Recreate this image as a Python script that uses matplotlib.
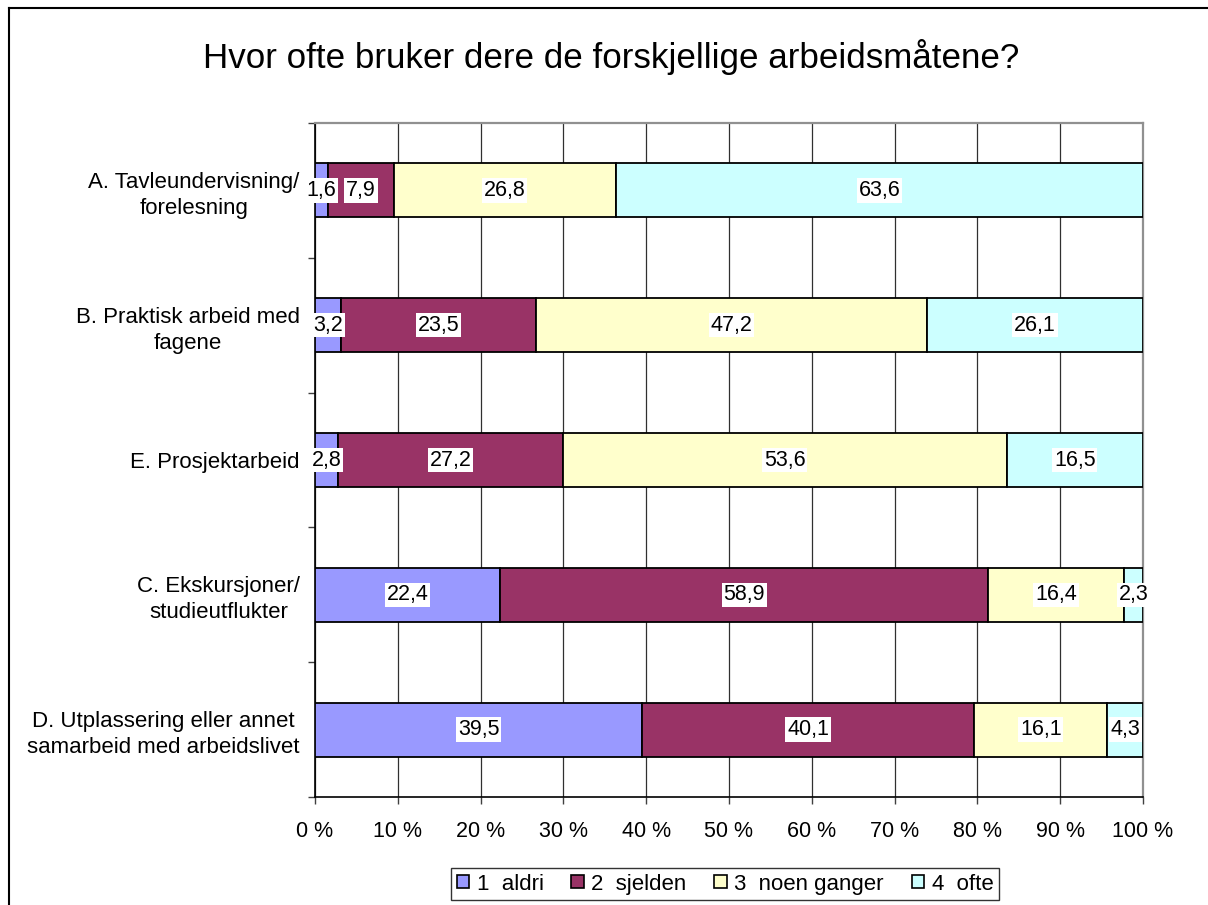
import matplotlib
matplotlib.use("Agg")
import matplotlib.pyplot as plt
from matplotlib import font_manager
from matplotlib.lines import Line2D
import numpy as np

title = "Hvor ofte bruker dere de forskjellige arbeidsmåtene?"
categories = [
    "A. Tavleundervisning/\nforelesning",
    "B. Praktisk arbeid med\nfagene",
    "E. Prosjektarbeid",
    "C. Ekskursjoner/\nstudieutflukter",
    "D. Utplassering eller annet\nsamarbeid med arbeidslivet",
]
series_names = ["1  aldri", "2  sjelden", "3  noen ganger", "4  ofte"]
aldri = [1.6, 3.2, 2.8, 22.4, 39.5]
sjelden = [7.9, 23.5, 27.2, 58.9, 40.1]
noen_ganger = [26.8, 47.2, 53.6, 16.4, 16.1]
ofte = [63.6, 26.1, 16.5, 2.3, 4.3]
colors = ["#9999FF", "#993366", "#FFFFCC", "#CCFFFF"]
xticks = list(range(0, 101, 10))

avail = {f.name for f in font_manager.fontManager.ttflist}
base_font = "Liberation Sans" if "Liberation Sans" in avail else "DejaVu Sans"
narrow = "Liberation Sans Narrow" in avail
plt.rcParams["font.family"] = [base_font, "DejaVu Sans"]

W, H = 1208, 905
fig = plt.figure(figsize=(W / 100, H / 100), dpi=100)
fig.patch.set_facecolor("white")

L, R, T, B = 315, 1143, 123, 797
ax = fig.add_axes([L / W, 1 - B / H, (R - L) / W, (B - T) / H])

data = np.array([aldri, sjelden, noen_ganger, ofte])
totals = data.sum(axis=0)
pct = data / totals * 100
y = np.arange(len(categories))
left = np.zeros(len(categories))
for i in range(4):
    ax.barh(y, pct[i], left=left, height=0.4, color=colors[i],
            edgecolor="black", linewidth=1.3, zorder=3, label=series_names[i])
    for j in range(len(categories)):
        txt = f"{data[i, j]:.1f}".replace(".", ",")
        ax.text(left[j] + pct[i, j] / 2, y[j], txt, ha="center", va="center",
                fontsize=15.5, color="black", zorder=5,
                bbox=dict(boxstyle="square,pad=0.08", fc="white", ec="none"))
    left += pct[i]

ax.set_xlim(0, 100)
ax.set_ylim(len(categories) - 0.5, -0.5)
ax.set_xticks(xticks)
ax.set_xticklabels([f"{t} %" for t in xticks], fontsize=15.5)
ax.set_yticks(y)
ax.set_yticklabels(categories, fontsize=16, multialignment="center", linespacing=1.3)
ax.set_yticks(np.arange(-0.5, len(categories), 1.0), minor=True)
ax.tick_params(axis="y", which="major", length=0, pad=11)
ax.tick_params(axis="y", which="minor", length=5, width=1, color="#404040", direction="out")
ax.tick_params(axis="x", which="major", length=5, width=1, color="#404040", direction="out", pad=12)
ax.grid(axis="x", color="#303030", linewidth=0.9, zorder=0)
ax.set_axisbelow(True)
for s in ["top", "right"]:
    ax.spines[s].set_color("#909090")
    ax.spines[s].set_linewidth(1.6)
for s in ["left", "bottom"]:
    ax.spines[s].set_color("black")
    ax.spines[s].set_linewidth(1.2)

if narrow:
    fig.text(611 / W, 1 - 57 / H, title, ha="center", va="center",
             fontsize=27, family=["Liberation Sans Narrow", "DejaVu Sans"])
else:
    fig.text(611 / W, 1 - 57 / H, title, ha="center", va="center", fontsize=25.2)

handles = [plt.Rectangle((0, 0), 1, 1, fc=c, ec="black", lw=1.2) for c in colors]
leg = fig.legend(handles, series_names, loc="center", bbox_to_anchor=(725 / W, 1 - 884 / H),
                 ncol=4, fontsize=16, frameon=True, fancybox=False, edgecolor="black",
                 handlelength=0.55, handleheight=0.55, handletextpad=0.35, columnspacing=1.25,
                 borderpad=0.25, borderaxespad=0)
leg.get_frame().set_linewidth(1.0)

# outer chart border (top and left visible)
fig.add_artist(Line2D([8.5 / W, 1], [1 - 8.5 / H] * 2, color="black", lw=1.5, transform=fig.transFigure))
fig.add_artist(Line2D([8.5 / W] * 2, [0, 1 - 8.5 / H], color="black", lw=1.5, transform=fig.transFigure))

fig.savefig("out.png", dpi=100)
